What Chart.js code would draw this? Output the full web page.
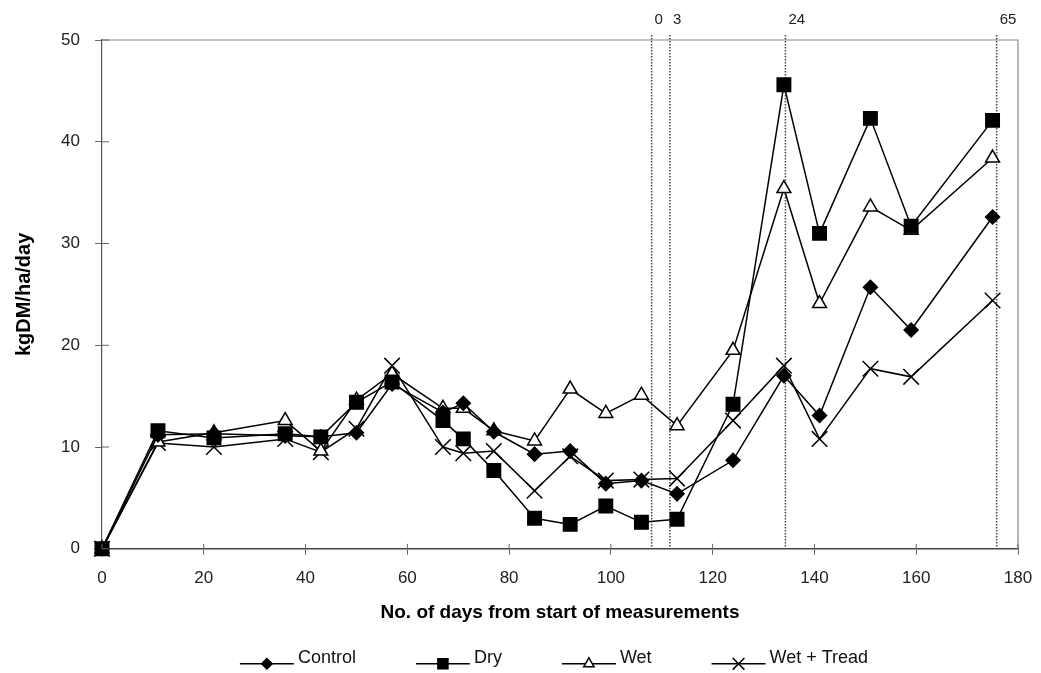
<!DOCTYPE html>
<html>
<head>
    <title>kgDM/ha/day</title>
    <style>
        body {
            margin: 0;
            background: #fff;
        }
        .wrap {
            width: 1041px;
            height: 673px;
        }
    </style>
    <script src="https://cdn.jsdelivr.net/npm/chart.js"></script>
</head>
<body>
    <div class="wrap"><canvas id="myChart"></canvas></div>
    <script>
        // Días desde el inicio de las mediciones
        var dias = [0, 11, 22, 36, 43, 50, 57, 67, 71, 77, 85, 92, 99, 106, 113, 124, 134, 141, 151, 159, 175];

        // kgDM/ha/day por tratamiento
        var control  = [0, 11.2, 11.3, 11.1, 11.0, 11.4, 16.2, 13.4, 14.3, 11.5, 9.3, 9.6, 6.4, 6.7, 5.4, 8.7, 17.0, 13.1, 25.7, 21.5, 32.6];
        var dry      = [0, 11.6, 10.9, 11.3, 11.0, 14.4, 16.4, 12.6, 10.8, 7.7, 3.0, 2.4, 4.2, 2.6, 2.9, 14.2, 45.6, 31.0, 42.3, 31.7, 42.1];
        var wet      = [0, 10.5, 11.4, 12.6, 9.6, 14.6, 17.2, 13.8, 13.8, 11.6, 10.6, 15.7, 13.3, 15.1, 12.1, 19.5, 35.4, 24.1, 33.6, 31.3, 38.4];
        var wetTread = [0, 10.4, 10.0, 10.8, 9.5, 11.8, 18.0, 10.0, 9.4, 9.6, 5.7, 9.1, 6.7, 6.8, 6.9, 12.6, 18.0, 10.8, 17.7, 16.9, 24.4];

        // Líneas punteadas verticales y sus etiquetas superiores
        var eventDays   = [108, 111.6, 134.3, 175.8];
        var eventLabels = ['0', '3', '24', '65'];

        var fuente = "'Liberation Sans', Arial, sans-serif";

        function puntos(valores) {
            return dias.map((d, i) => ({ x: d, y: valores[i] }));
        }

        var series = [
            { label: 'Control', data: control, style: 'rectRot', radius: 7, fill: '#000' },
            { label: 'Dry', data: dry, style: 'rect', radius: 9.5, fill: '#000' },
            { label: 'Wet', data: wet, style: 'triangle', radius: 8, fill: '#fff' },
            { label: 'Wet + Tread', data: wetTread, style: 'crossRot', radius: 11, fill: '#000' }
        ];

        var datasets = series.map(s => ({
            label: s.label,
            data: puntos(s.data),
            borderColor: '#000',
            backgroundColor: s.fill,
            borderWidth: 1.5,
            pointStyle: s.style,
            pointRadius: s.radius,
            pointHoverRadius: s.radius,
            pointBackgroundColor: s.fill,
            pointBorderColor: '#000',
            pointBorderWidth: 1.5,
            tension: 0,
            clip: false
        }));

        // Marco, ticks cruzados, líneas de eventos y leyenda
        var extras = {
            id: 'extras',
            beforeDatasetsDraw(chart) {
                var ctx = chart.ctx;
                var a = chart.chartArea;
                var x = chart.scales.x;
                ctx.save();
                ctx.strokeStyle = '#8a8a8a';
                ctx.lineWidth = 1.2;
                ctx.beginPath();
                ctx.moveTo(a.left, a.top);
                ctx.lineTo(a.right, a.top);
                ctx.lineTo(a.right, a.bottom);
                ctx.stroke();

                ctx.strokeStyle = '#444';
                ctx.lineWidth = 1.5;
                ctx.setLineDash([1.5, 1.5]);
                eventDays.forEach(d => {
                    var px = x.getPixelForValue(d);
                    ctx.beginPath();
                    ctx.moveTo(px, a.top - 5);
                    ctx.lineTo(px, a.bottom);
                    ctx.stroke();
                });
                ctx.setLineDash([]);

                ctx.fillStyle = '#222';
                ctx.font = '15px ' + fuente;
                ctx.textAlign = 'left';
                ctx.textBaseline = 'middle';
                eventDays.forEach((d, i) => {
                    ctx.fillText(eventLabels[i], x.getPixelForValue(d) + 3, a.top - 20);
                });
                ctx.restore();
            },
            afterDraw(chart) {
                var ctx = chart.ctx;
                var a = chart.chartArea;
                var sx = chart.scales.x;
                var sy = chart.scales.y;
                ctx.save();
                ctx.strokeStyle = '#666';
                ctx.lineWidth = 1;
                sy.ticks.forEach(t => {
                    var py = sy.getPixelForValue(t.value);
                    ctx.beginPath();
                    ctx.moveTo(a.left, py);
                    ctx.lineTo(a.left + 7, py);
                    ctx.stroke();
                });
                sx.ticks.forEach(t => {
                    var px = sx.getPixelForValue(t.value);
                    ctx.beginPath();
                    ctx.moveTo(px, a.bottom);
                    ctx.lineTo(px, a.bottom - 5);
                    ctx.stroke();
                });

                // leyenda
                var largo = 54, hueco = 4, sep = 60, ly = a.bottom + 111;
                ctx.font = '18px ' + fuente;
                var anchos = series.map(s => largo + hueco + ctx.measureText(s.label).width);
                var total = anchos.reduce((p, c) => p + c, 0) + sep * (series.length - 1);
                var lx = 554 - total / 2;
                series.forEach((s, i) => {
                    ctx.strokeStyle = '#000';
                    ctx.lineWidth = 1.5;
                    ctx.beginPath();
                    ctx.moveTo(lx, ly + 4);
                    ctx.lineTo(lx + largo, ly + 4);
                    ctx.stroke();
                    ctx.fillStyle = s.fill;
                    Chart.helpers.drawPoint(ctx, {
                        pointStyle: s.style,
                        radius: s.radius * 0.75,
                        rotation: 0,
                        borderWidth: 1.5
                    }, lx + largo / 2, ly + 4);
                    ctx.fillStyle = '#111';
                    ctx.textAlign = 'left';
                    ctx.textBaseline = 'middle';
                    ctx.fillText(s.label, lx + largo + hueco, ly - 2);
                    lx += anchos[i] + sep;
                });
                ctx.restore();
            }
        };

        var ctx = document.getElementById('myChart').getContext('2d');
        var myChart = new Chart(ctx, {
            type: 'line',
            data: { datasets: datasets },
            options: {
                responsive: true,
                maintainAspectRatio: false,
                animation: false,
                layout: {
                    padding: { left: 0, right: 23, top: 40, bottom: 45 }
                },
                plugins: {
                    legend: { display: false },
                    tooltip: { enabled: false }
                },
                scales: {
                    x: {
                        type: 'linear',
                        min: 0,
                        max: 180,
                        afterFit(scale) { scale.paddingRight = 0; },
                        border: { display: true, color: '#444', width: 1.5 },
                        grid: { drawOnChartArea: false, drawTicks: true, tickLength: 6, color: '#666' },
                        ticks: {
                            stepSize: 20,
                            padding: 13,
                            color: '#222',
                            font: { family: fuente, size: 17 }
                        },
                        title: {
                            display: true,
                            text: 'No. of days from start of measurements',
                            color: '#000',
                            font: { family: fuente, size: 19, weight: 'bold' },
                            padding: { top: 0, bottom: 4 }
                        }
                    },
                    y: {
                        min: 0,
                        max: 50,
                        afterFit(scale) { scale.width = 102; },
                        border: { display: true, color: '#555', width: 1.2 },
                        grid: { drawOnChartArea: false, drawTicks: true, tickLength: 7, color: '#666' },
                        ticks: {
                            stepSize: 10,
                            padding: 15,
                            color: '#222',
                            font: { family: fuente, size: 17 }
                        },
                        title: {
                            display: true,
                            text: 'kgDM/ha/day',
                            color: '#000',
                            font: { family: fuente, size: 20, weight: 'bold' },
                            padding: { top: 12, bottom: 0 }
                        }
                    }
                }
            },
            plugins: [extras]
        });
    </script>
</body>
</html>
